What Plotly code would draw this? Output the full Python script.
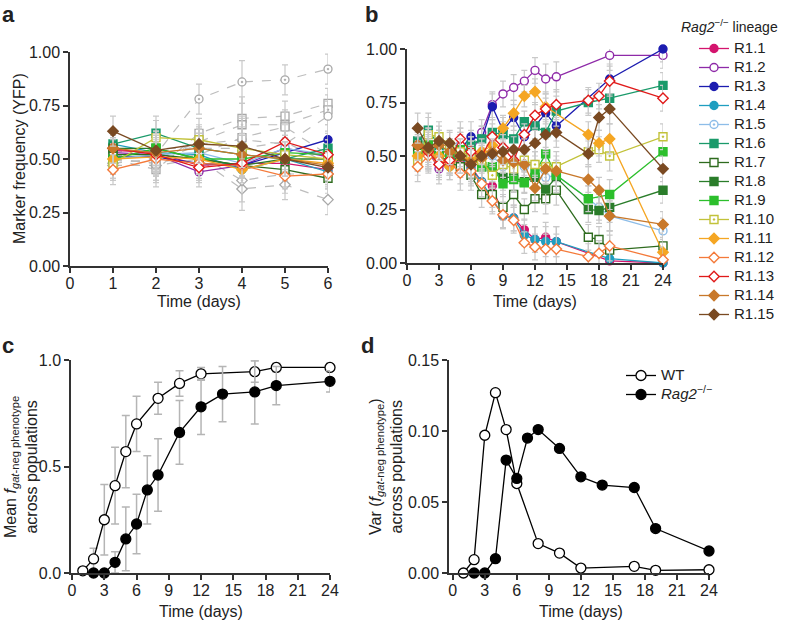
import plotly.graph_objects as go

W, H = 788, 621

# ---------------- data ----------------
times_a = [1, 2, 3, 4, 5, 6]
times_b = [1, 2, 3, 4, 5, 6, 7, 8, 9, 10, 11, 12, 13, 14, 17, 18, 19, 24]

lineages = ["R1.1", "R1.2", "R1.3", "R1.4", "R1.5", "R1.6", "R1.7", "R1.8",
            "R1.9", "R1.10", "R1.11", "R1.12", "R1.13", "R1.14", "R1.15"]

R1_1 = [0.54, 0.53, 0.47, 0.48, 0.48, 0.45, 0.38, 0.36, 0.22, 0.21, 0.155, 0.11, 0.12, 0.10, None, None, 0.01, 0.00]
R1_2 = [0.53, 0.52, 0.44, 0.47, 0.55, 0.51, 0.61, 0.74, 0.79, 0.82, 0.85, 0.90, 0.86, 0.87, None, None, 0.97, 0.97]
R1_3 = [0.51, 0.51, 0.48, 0.47, 0.53, 0.59, 0.58, 0.73, 0.62, 0.68, 0.59, 0.64, 0.70, 0.64, None, None, 0.86, 1.00]
R1_4 = [0.57, 0.53, 0.52, 0.45, 0.50, 0.44, 0.38, 0.30, 0.22, 0.21, 0.13, 0.11, 0.10, 0.10, None, None, 0.02, 0.00]
R1_5 = [0.50, 0.52, 0.53, 0.48, 0.55, 0.52, 0.52, 0.50, 0.45, 0.48, 0.45, 0.46, 0.40, 0.41, 0.30, 0.26, 0.22, 0.15]
R1_6 = [0.57, 0.62, 0.55, 0.52, 0.50, 0.55, 0.58, 0.61, 0.60, 0.58, 0.66, 0.64, 0.61, 0.71, 0.75, None, 0.77, 0.83]
R1_7 = [0.52, 0.52, 0.50, 0.47, 0.45, 0.41, 0.32, 0.32, 0.26, 0.32, 0.25, 0.30, 0.30, 0.34, 0.12, 0.11, 0.06, 0.08]
R1_8 = [0.55, 0.55, 0.50, 0.47, 0.50, 0.50, 0.45, 0.44, 0.40, 0.40, 0.38, 0.40, 0.345, 0.40, 0.25, 0.245, 0.26, 0.34]
R1_9 = [0.50, 0.55, 0.50, 0.50, 0.53, 0.52, 0.45, 0.45, 0.37, 0.39, 0.375, 0.42, 0.51, 0.41, 0.30, None, 0.32, 0.52]
R1_10 = [0.48, 0.60, 0.59, 0.55, 0.52, 0.50, 0.48, 0.41, 0.46, 0.44, 0.48, 0.46, 0.45, 0.45, 0.52, 0.53, 0.50, 0.59]
R1_11 = [0.50, 0.51, 0.50, 0.45, 0.50, 0.48, 0.52, 0.55, 0.63, 0.70, 0.78, 0.80, 0.73, None, 0.60, 0.56, 0.58, 0.05]
R1_12 = [0.45, 0.50, 0.48, 0.47, 0.42, 0.43, 0.37, 0.29, 0.225, 0.20, 0.095, 0.075, 0.065, 0.065, 0.03, 0.045, 0.08, 0.015]
R1_13 = [0.55, 0.52, 0.46, 0.48, 0.58, 0.52, 0.50, 0.59, 0.54, 0.48, 0.60, 0.69, 0.72, 0.74, 0.76, 0.78, 0.85, 0.77]
R1_14 = [0.55, 0.53, 0.55, 0.52, 0.50, 0.47, 0.49, 0.52, 0.48, 0.47, 0.46, 0.35, 0.44, 0.43, 0.39, 0.34, 0.22, 0.18]
R1_15 = [0.63, 0.54, 0.57, 0.56, 0.50, 0.46, 0.50, 0.51, 0.52, 0.53, 0.53, 0.56, 0.60, 0.61, 0.51, 0.68, 0.72, 0.44]
series_b = [R1_1, R1_2, R1_3, R1_4, R1_5, R1_6, R1_7, R1_8, R1_9, R1_10,
            R1_11, R1_12, R1_13, R1_14, R1_15]
err_b = [0.07, 0.08, 0.07, 0.06, 0.08, 0.07, 0.06, 0.06, 0.06, 0.06, 0.05, 0.06, 0.07, 0.07, 0.06, 0.06, 0.07, 0.06]

# WT lineages (grey dashed) in panel a
WT_a1 = [0.55, 0.52, 0.78, 0.86, 0.87, 0.92]
WT_a2 = [0.50, 0.45, 0.62, 0.69, 0.70, 0.76]
WT_a3 = [0.52, 0.50, 0.58, 0.66, 0.66, 0.73]
WT_a4 = [0.50, 0.48, 0.57, 0.59, 0.57, 0.70]
WT_a5 = [0.47, 0.47, 0.50, 0.36, 0.38, 0.31]
WT_a6 = [0.48, 0.50, 0.52, 0.40, 0.43, 0.43]
WT_a7 = [0.53, 0.55, 0.55, 0.55, 0.58, 0.48]
WT_a8 = [0.50, 0.48, 0.52, 0.60, 0.65, 0.52]
wt_series_a = [WT_a1, WT_a2, WT_a3, WT_a4, WT_a5, WT_a6, WT_a7, WT_a8]
err_wt_a = [0.07, 0.08, 0.07, 0.10, 0.07, 0.07]

# panel c: mean fraction
times_wt_c = [1, 2, 3, 4, 5, 6, 8, 10, 12, 17, 19, 24]
mean_wt = [0.01, 0.066, 0.25, 0.41, 0.57, 0.70, 0.82, 0.89, 0.935, 0.945, 0.965, 0.965]
sd_wt = [0.0, 0.05, 0.165, 0.18, 0.17, 0.13, 0.075, 0.06, 0.03, 0.05, 0.02, 0.02]
times_rag_c = [2, 3, 4, 5, 6, 7, 8, 10, 12, 14, 17, 19, 24]
mean_rag = [0.0, 0.0, 0.05, 0.16, 0.23, 0.39, 0.46, 0.66, 0.78, 0.84, 0.85, 0.88, 0.90]
sd_rag = [0.0, 0.0, 0.05, 0.15, 0.14, 0.16, 0.17, 0.15, 0.13, 0.13, 0.15, 0.09, 0.05]

# panel d: variance
var_wt = [0.0, 0.0094, 0.097, 0.127, 0.101, 0.063, 0.0207, 0.014, 0.0035, 0.0047, 0.0019, 0.0023]
var_rag = [0.0, 0.0, 0.0101, 0.0795, 0.0666, 0.095, 0.101, 0.0877, 0.0677, 0.0619, 0.0602, 0.0313, 0.0155]

# ---------------- styles ----------------
colors = ["#d4146e", "#8e2aa8", "#1c1cb0", "#1f9ec0", "#8dbde8", "#1a9a6a", "#2e6b1e", "#2a7d2a",
          "#2cbf2c", "#c2c23a", "#f5a623", "#f47a3a", "#e01a1a", "#c8782a", "#7a4a22"]
symbols = ["circle", "circle", "circle", "circle", "circle-dot", "square", "square", "square",
           "square", "square-dot", "diamond", "diamond", "diamond", "diamond", "diamond-dot"]
fills = ["c", "w", "c", "c", "w", "c", "w", "c", "c", "w", "c", "w", "w", "c", "c"]
wt_symbols = ["circle-dot", "square", "square-dot", "circle", "diamond", "diamond-dot", "circle-dot", "square"]

AX = "#333333"
FONT = "Liberation Sans, Arial, Helvetica, sans-serif"
GREY_ERR = "#c9c9c9"
LEG_TXT = '<span style="font-size:15px">{}</span>'


def xd(p0, p1):
    return [p0 / W, p1 / W]


def yd(top, bottom):
    return [1 - bottom / H, 1 - top / H]


fig = go.Figure()

# panel a: WT grey dashed
for vals, sym in zip(wt_series_a, wt_symbols):
    fig.add_trace(go.Scatter(
        x=times_a, y=vals, mode="lines+markers", xaxis="x", yaxis="y", showlegend=False,
        line=dict(color="#bdbdbd", width=1.2, dash="dash"),
        marker=dict(symbol=sym, size=8, color="white", line=dict(color="#a8a8a8", width=1.3)),
        error_y=dict(type="data", array=err_wt_a, color=GREY_ERR, thickness=1.2, width=3),
        cliponaxis=False))

# panel a: Rag2 lineages (first 6 days)
for name, vals, col, sym, fl in zip(lineages, series_b, colors, symbols, fills):
    fig.add_trace(go.Scatter(
        x=times_a, y=vals[:6], mode="lines+markers", xaxis="x", yaxis="y", showlegend=False,
        line=dict(color=col, width=1.3),
        marker=dict(symbol=sym, size=8, color=col if fl == "c" else "white", line=dict(color=col, width=1.4)),
        error_y=dict(type="data", array=err_b[:6], color=GREY_ERR, thickness=1.2, width=3),
        cliponaxis=False))

# panel b
for name, vals, col, sym, fl in zip(lineages, series_b, colors, symbols, fills):
    fig.add_trace(go.Scatter(
        x=times_b, y=vals, name=LEG_TXT.format(name), mode="lines+markers", xaxis="x2", yaxis="y2",
        connectgaps=True, legend="legend",
        line=dict(color=col, width=1.3),
        marker=dict(symbol=sym, size=8, color=col if fl == "c" else "white", line=dict(color=col, width=1.4)),
        error_y=dict(type="data", array=err_b, color=GREY_ERR, thickness=1.2, width=3),
        cliponaxis=False))

# panel c
fig.add_trace(go.Scatter(
    x=times_wt_c, y=mean_wt, mode="lines+markers", xaxis="x3", yaxis="y3", showlegend=False,
    line=dict(color="black", width=1.3),
    marker=dict(symbol="circle", size=10, color="white", line=dict(color="black", width=1.3)),
    error_y=dict(type="data", array=sd_wt, color="#b5b5b5", thickness=1.5, width=4),
    cliponaxis=False))
fig.add_trace(go.Scatter(
    x=times_rag_c, y=mean_rag, mode="lines+markers", xaxis="x3", yaxis="y3", showlegend=False,
    line=dict(color="black", width=1.3),
    marker=dict(symbol="circle", size=10, color="black", line=dict(color="black", width=1.3)),
    error_y=dict(type="data", array=sd_rag, color="#b5b5b5", thickness=1.5, width=4),
    cliponaxis=False))

# panel d
fig.add_trace(go.Scatter(
    x=times_wt_c, y=var_wt, name=LEG_TXT.format("WT"), mode="lines+markers", xaxis="x4", yaxis="y4",
    legend="legend2",
    line=dict(color="black", width=1.3),
    marker=dict(symbol="circle", size=10, color="white", line=dict(color="black", width=1.3)),
    cliponaxis=False))
fig.add_trace(go.Scatter(
    x=times_rag_c, y=var_rag, name=LEG_TXT.format("<i>Rag2</i><sup>\u2212/\u2212</sup>"), mode="lines+markers",
    xaxis="x4", yaxis="y4", legend="legend2",
    line=dict(color="black", width=1.3),
    marker=dict(symbol="circle", size=10, color="black", line=dict(color="black", width=1.3)),
    cliponaxis=False))

axis_common = dict(showgrid=False, zeroline=False, showline=True, linecolor=AX, linewidth=1.5,
                   ticks="outside", ticklen=5, tickwidth=1.5, tickcolor=AX, automargin=False,
                   tickfont=dict(size=16, color="#222", family=FONT), fixedrange=True)
xtick_extra = dict(ticklabelstandoff=-3)

fig.update_layout(
    width=W, height=H, margin=dict(l=0, r=0, t=0, b=0, autoexpand=False),
    paper_bgcolor="white", plot_bgcolor="white",
    font=dict(family=FONT, color="#222"),
    xaxis=dict(domain=xd(70, 328), range=[0, 6], tickvals=[0, 1, 2, 3, 4, 5, 6], anchor="y",
               **xtick_extra, **axis_common),
    yaxis=dict(domain=yd(52, 266), range=[0, 1], tickvals=[0, 0.25, 0.5, 0.75, 1.0], tickformat=".2f",
               anchor="x", **axis_common),
    xaxis2=dict(domain=xd(407, 663), range=[0, 24], tickvals=list(range(0, 25, 3)), anchor="y2",
                **xtick_extra, **axis_common),
    yaxis2=dict(domain=yd(49, 263), range=[0, 1], tickvals=[0, 0.25, 0.5, 0.75, 1.0], tickformat=".2f",
                anchor="x2", **axis_common),
    xaxis3=dict(domain=xd(71, 330), range=[-0.1, 24], tickvals=list(range(0, 25, 3)), anchor="y3",
                **xtick_extra, **axis_common),
    yaxis3=dict(domain=yd(360, 573), range=[0, 1], tickvals=[0, 0.5, 1.0], tickformat=".1f",
                anchor="x3", **axis_common),
    xaxis4=dict(domain=xd(449, 709), range=[-0.35, 24], tickvals=list(range(0, 25, 3)), anchor="y4",
                **xtick_extra, **axis_common),
    yaxis4=dict(domain=yd(360, 573), range=[0, 0.15], tickvals=[0, 0.05, 0.10, 0.15], tickformat=".2f",
                anchor="x4", **axis_common),
    legend=dict(x=694 / W, y=1 - 34 / H, xanchor="left", yanchor="top", bgcolor="rgba(0,0,0,0)",
                font=dict(size=12, family=FONT, color="#222"), tracegroupgap=0, itemwidth=30),
    legend2=dict(x=621 / W, y=1 - 361 / H, xanchor="left", yanchor="top", bgcolor="rgba(0,0,0,0)",
                 font=dict(size=12, family=FONT, color="#222"), itemwidth=30),
)

annotations = [
    dict(text="<b>a</b>", x=0 / W, y=1 - 0 / H, xanchor="left", yanchor="top", font=dict(size=22)),
    dict(text="<b>b</b>", x=363 / W, y=1 - 0 / H, xanchor="left", yanchor="top", font=dict(size=22)),
    dict(text="<b>c</b>", x=0 / W, y=1 - 331 / H, xanchor="left", yanchor="top", font=dict(size=22)),
    dict(text="<b>d</b>", x=359 / W, y=1 - 331 / H, xanchor="left", yanchor="top", font=dict(size=22)),
    dict(text="Time (days)", x=199 / W, y=1 - 302 / H, xanchor="center", yanchor="middle", font=dict(size=16)),
    dict(text="Time (days)", x=535 / W, y=1 - 302 / H, xanchor="center", yanchor="middle", font=dict(size=16)),
    dict(text="Time (days)", x=201 / W, y=1 - 611 / H, xanchor="center", yanchor="middle", font=dict(size=16)),
    dict(text="Time (days)", x=581 / W, y=1 - 611 / H, xanchor="center", yanchor="middle", font=dict(size=16)),
    dict(text="Marker frequency (YFP)", x=19 / W, y=1 - 159 / H, textangle=-90, xanchor="center",
         yanchor="middle", font=dict(size=16)),
    dict(text="Mean <i>f</i><sub><i>gat</i>-neg phenotype</sub><br>across populations", x=21 / W, y=1 - 467 / H,
         textangle=-90, xanchor="center", yanchor="middle", font=dict(size=16)),
    dict(text="Var (<i>f</i><sub><i>gat</i>-neg phenotype</sub>)<br>across populations", x=386 / W, y=1 - 467 / H,
         textangle=-90, xanchor="center", yanchor="middle", font=dict(size=16)),
    dict(text="<i>Rag2</i><sup>\u2212/\u2212</sup> lineage", x=679 / W, y=1 - 26 / H, xanchor="left",
         yanchor="middle", font=dict(size=14)),
]
for a in annotations:
    a.update(xref="paper", yref="paper", showarrow=False)
    a["font"].update(family=FONT, color="#222")
fig.update_layout(annotations=annotations)

fig.write_html("out.html", config={"displayModeBar": False},
               post_script="document.body.style.margin='0';document.body.style.overflow='hidden';")
